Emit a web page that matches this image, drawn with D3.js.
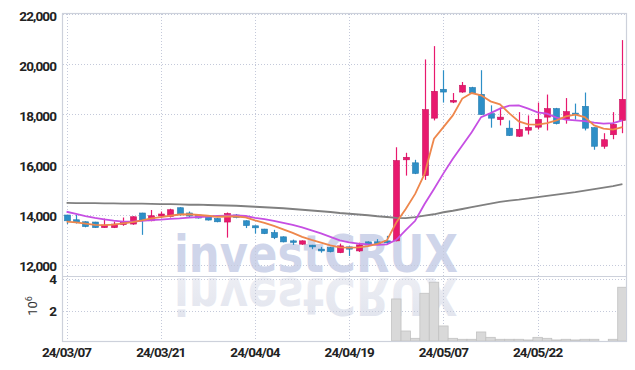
<!DOCTYPE html>
<html>
<head>
<meta charset="utf-8">
<script src="https://cdn.jsdelivr.net/npm/d3@7"></script>
<style>
  body { margin: 0; background: #fff; }
  svg text { font-family: Roboto, "Liberation Sans", sans-serif; }
</style>
</head>
<body>
<svg id="chart" width="635" height="370"></svg>
<script>
// trading days (yy/mm/dd)
const dates = [
  "24/03/07","24/03/08","24/03/11","24/03/12","24/03/13","24/03/14","24/03/15","24/03/18","24/03/19","24/03/20",
  "24/03/21","24/03/22","24/03/25","24/03/26","24/03/27","24/03/28","24/03/29","24/04/01","24/04/02","24/04/03",
  "24/04/04","24/04/05","24/04/08","24/04/09","24/04/11","24/04/12","24/04/15","24/04/16","24/04/17","24/04/18",
  "24/04/19","24/04/22","24/04/23","24/04/24","24/04/25","24/04/26","24/04/29","24/04/30","24/05/02","24/05/03",
  "24/05/07","24/05/08","24/05/09","24/05/10","24/05/13","24/05/14","24/05/16","24/05/17","24/05/20","24/05/21",
  "24/05/22","24/05/23","24/05/24","24/05/27","24/05/28","24/05/29","24/05/30","24/05/31","24/06/03","24/06/04"
];

const open = [
  13990,13800,13720,13710,13490,13490,13610,13630,14070,13760,
  13950,13930,14280,14070,13990,13920,13850,13710,13990,13760,
  13560,13430,13290,13120,12960,12830,12790,12630,12690,12490,
  12720,12560,12920,12920,12960,12960,16190,16070,15560,17850,
  19000,18490,18890,19070,18800,18030,17790,17450,17130,17370,
  17490,17890,18230,17800,18050,18320,17470,16730,17190,17760
];
const high = [
  14000,13990,13740,13720,13850,13730,13890,13940,14080,14190,
  14130,14240,14300,14130,14000,13940,13870,14090,14030,13780,
  13570,13440,13400,13140,13010,12980,12800,12720,12720,12850,
  12740,12890,12940,13030,13160,16690,16470,16190,20190,20720,
  19760,18850,19290,19100,19760,18360,18270,17760,18090,17960,
  18470,18790,18260,18650,18430,18870,17480,17250,18090,20960
];
const low = [
  13630,13650,13500,13480,13480,13470,13560,13600,13200,13740,
  13870,13890,13960,13890,13850,13770,13700,13090,13860,13470,
  13250,13230,13030,12900,12800,12800,12630,12490,12500,12470,
  12360,12520,12780,12830,12830,12940,15560,15620,15390,17760,
  18470,18450,18860,18820,17980,17470,17560,17140,17100,17200,
  17400,17360,17600,17630,17790,17360,16590,16630,17010,17250
];
const close = [
  13760,13690,13530,13490,13590,13630,13690,13920,13790,13960,
  14030,14200,14000,13950,13870,13790,13720,14050,13890,13570,
  13480,13250,13090,12920,12920,12960,12720,12560,12530,12760,
  12630,12800,12800,12850,12880,16160,16290,15650,18190,18920,
  18890,18560,19160,18850,18000,17850,17890,17160,17400,17480,
  17800,18230,17630,18110,17990,17450,16730,16990,17600,18600
];

// volume, millions of shares
const volume = [
  0.11,0.09,0.08,0.10,0.07,0.06,0.08,0.09,0.14,0.10,
  0.08,0.12,0.10,0.07,0.06,0.05,0.06,0.13,0.07,0.06,
  0.07,0.06,0.08,0.09,0.06,0.07,0.08,0.09,0.08,0.10,
  0.09,0.09,0.06,0.07,0.08,2.77,0.80,0.35,3.12,3.80,
  1.11,0.35,0.29,0.29,0.74,0.41,0.29,0.29,0.29,0.25,
  0.41,0.35,0.25,0.29,0.25,0.29,0.29,0.16,0.29,3.49
];

// moving averages
const ma5 = [
  13730,13700,13650,13600,13590,13610,13660,13710,13780,13860,
  13910,13960,14010,14020,13990,13960,13920,13930,13930,13900,
  13780,13680,13560,13420,13280,13120,13000,12890,12780,12700,
  12690,12700,12750,12840,12980,13690,14230,14830,15630,17030,
  17490,17960,18630,18850,18760,18520,18400,18040,17720,17600,
  17590,17650,17760,17920,17990,17890,17560,17430,17390,17490
];
const ma10 = [
  14120,14040,13950,13880,13820,13770,13730,13730,13760,13790,
  13810,13840,13860,13890,13910,13930,13950,13960,13970,13950,
  13880,13830,13760,13680,13600,13500,13380,13260,13120,12980,
  12900,12850,12820,12800,12820,13000,13390,13760,14430,15030,
  15650,16230,16760,17290,17890,18050,18230,18350,18360,18230,
  18080,18030,17870,17790,17760,17730,17670,17630,17650,17760
];
const ma120 = [
  14470,14460,14460,14460,14450,14450,14440,14440,14440,14430,
  14420,14420,14410,14400,14400,14390,14380,14370,14360,14340,
  14320,14300,14280,14260,14230,14200,14170,14140,14110,14070,
  14040,14010,13980,13940,13910,13880,13870,13910,13970,14020,
  14100,14160,14230,14300,14370,14440,14510,14560,14600,14650,
  14700,14750,14800,14850,14900,14960,15020,15080,15140,15220
];

const priceTicks = [12000, 14000, 16000, 18000, 20000, 22000];
const volumeTicks = [2, 4];
const dateTicks = ["24/03/07","24/03/21","24/04/04","24/04/19","24/05/07","24/05/22"];

const upColor = "#e8196e", upStroke = "#c7125c";
const downColor = "#2d8fc7", downStroke = "#2379ad";
const gridColor = "#c4c9da";
const frameColor = "#cdd1db";

const svg = d3.select("#chart");

const plotLeft = 63, plotRight = 626, plotTop = 14, plotMid = 277, plotBottom = 341;

const x = d3.scalePoint().domain(dates).range([plotLeft, plotRight]).padding(0.38);
const y = d3.scaleLinear().domain([11520, 22000]).range([plotMid, plotTop]);
const yv = d3.scaleLinear().domain([0.185, 4.12]).range([plotBottom, plotMid]);

// watermark and its reflection
const wmFont = s => s
    .attr("x", 174).attr("y", 272)
    .attr("textLength", 284).attr("lengthAdjust", "spacingAndGlyphs")
    .style("font-family", "'DejaVu Sans', 'Liberation Sans', sans-serif")
    .style("font-weight", "bold").style("font-size", "52px");
const wm = svg.append("g");
wm.append("text").call(wmFont)
    .attr("fill", "#cfd5ea")
    .text("investCRUX");
const defs = svg.append("defs");
const grad = defs.append("linearGradient").attr("id", "fade")
    .attr("x1", 0).attr("y1", 0).attr("x2", 0).attr("y2", 1);
grad.append("stop").attr("offset", "0%").attr("stop-color", "#e0e3ed");
grad.append("stop").attr("offset", "100%").attr("stop-color", "#eff0f5");
wm.append("g")
    .attr("transform", "translate(0,550) scale(1,-1)")
  .append("text").call(wmFont)
    .attr("fill", "url(#fade)")
    .text("investCRUX");

// grid
const grid = svg.append("g")
    .attr("stroke", gridColor).attr("stroke-width", 1).attr("stroke-dasharray", "1,2");
grid.selectAll(".hp").data(priceTicks).join("line")
    .attr("x1", plotLeft).attr("x2", plotRight)
    .attr("y1", d => Math.round(y(d)) + 0.5).attr("y2", d => Math.round(y(d)) + 0.5);
grid.selectAll(".hv").data(volumeTicks).join("line")
    .attr("x1", plotLeft).attr("x2", plotRight)
    .attr("y1", d => Math.round(yv(d)) + 0.5).attr("y2", d => Math.round(yv(d)) + 0.5);
grid.selectAll(".vx").data(dateTicks).join("line")
    .attr("x1", d => Math.round(x(d)) + 0.5).attr("x2", d => Math.round(x(d)) + 0.5)
    .attr("y1", plotTop).attr("y2", plotBottom);

// frame
const frame = svg.append("g").attr("stroke", frameColor).attr("stroke-width", 1.2).attr("fill", "none");
frame.append("rect").attr("x", plotLeft - 0.5).attr("y", plotTop - 0.5)
    .attr("width", plotRight - plotLeft + 1).attr("height", plotBottom - plotTop + 1);
frame.append("line").attr("x1", plotLeft).attr("x2", plotRight)
    .attr("y1", plotMid - 0.5).attr("y2", plotMid - 0.5);

// volume bars
svg.append("clipPath").attr("id", "volClip")
  .append("rect").attr("x", plotLeft).attr("y", plotMid)
    .attr("width", plotRight - plotLeft).attr("height", plotBottom - plotMid);
const step = x.step();
svg.append("g").attr("clip-path", "url(#volClip)")
  .selectAll("rect").data(dates).join("rect")
    .attr("x", d => x(d) - step / 2)
    .attr("width", step)
    .attr("y", (d, i) => yv(volume[i]))
    .attr("height", (d, i) => Math.max(0, plotBottom - yv(volume[i])))
    .attr("fill", "#d9d9d9")
    .attr("stroke", "#c2c2c2")
    .attr("stroke-width", 0.8);

// candles
const candles = svg.append("g").selectAll("g").data(dates).join("g");
const isUp = i => close[i] >= open[i];
candles.append("line")
    .attr("x1", d => Math.round(x(d)) + 0.5).attr("x2", d => Math.round(x(d)) + 0.5)
    .attr("y1", (d, i) => y(high[i])).attr("y2", (d, i) => y(low[i]))
    .attr("stroke", (d, i) => isUp(i) ? upColor : downColor)
    .attr("stroke-width", 1.2);
candles.append("rect")
    .attr("x", d => Math.round(x(d)) - 2.5)
    .attr("width", 6)
    .attr("y", (d, i) => y(Math.max(open[i], close[i])))
    .attr("height", (d, i) => Math.max(1.5, Math.abs(y(open[i]) - y(close[i]))))
    .attr("fill", (d, i) => isUp(i) ? upColor : downColor)
    .attr("stroke", (d, i) => isUp(i) ? upStroke : downStroke)
    .attr("stroke-width", 0.6);

// moving averages
const line = arr => d3.line().x(d => x(d)).y((d, i) => y(arr[i]))(dates);
svg.append("path").attr("d", line(ma120)).attr("fill", "none")
    .attr("stroke", "#808080").attr("stroke-width", 1.8);
svg.append("path").attr("d", line(ma10)).attr("fill", "none")
    .attr("stroke", "#c64fe3").attr("stroke-width", 1.8);
svg.append("path").attr("d", line(ma5)).attr("fill", "none")
    .attr("stroke", "#ee874c").attr("stroke-width", 1.8);

// axes labels
const fmt = d3.format(",");
const labelStyle = s => s.attr("fill", "#222").style("font-size", "13.5px")
    .style("font-weight", 700).style("letter-spacing", "-0.9px");
svg.append("g").selectAll("text").data(priceTicks).join("text")
    .attr("x", 56).attr("y", d => y(d) + 6.5)
    .attr("text-anchor", "end")
    .call(labelStyle)
    .text(d => fmt(d));
svg.append("g").selectAll("text").data(volumeTicks).join("text")
    .attr("x", 56).attr("y", d => yv(d) + 5)
    .attr("text-anchor", "end")
    .call(labelStyle)
    .text(d => d);
svg.append("g").selectAll("text").data(dateTicks).join("text")
    .attr("x", d => x(d)).attr("y", 357)
    .attr("text-anchor", "middle")
    .call(labelStyle)
    .text(d => d);

const unit = svg.append("text")
    .attr("transform", "translate(37,306) rotate(-90)")
    .attr("text-anchor", "middle")
    .attr("fill", "#333").style("font-size", "13px");
unit.append("tspan").text("10");
unit.append("tspan").attr("dy", -5).style("font-size", "9px").text("6");
</script>
</body>
</html>
